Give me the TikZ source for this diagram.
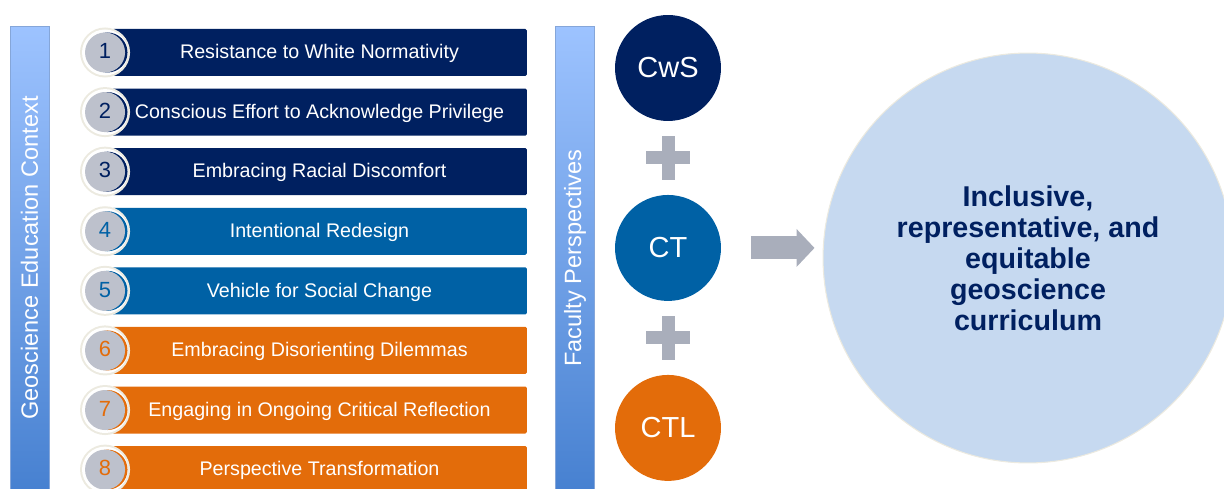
\documentclass[tikz,border=0pt]{standalone}
\usepackage{fontspec}
\setmainfont{Liberation Sans}
\usetikzlibrary{positioning,calc,arrows.meta}

\definecolor{navy}{RGB}{0,32,96}
\definecolor{midblue}{RGB}{0,97,165}
\definecolor{rust}{RGB}{227,108,10}
\definecolor{taggray}{RGB}{189,193,204}
\definecolor{cream}{RGB}{236,234,224}
\definecolor{plusgray}{RGB}{169,174,187}
\definecolor{goalfill}{RGB}{198,217,240}
\definecolor{sidetop}{RGB}{157,195,255}
\definecolor{sidebot}{RGB}{70,128,208}

\begin{document}
\begin{tikzpicture}[x=0.02cm, y=-0.02cm,
    node distance=0.252cm,
    bar/.style={fill=#1, text=white, minimum width=8.3cm, minimum height=0.94cm, inner sep=0pt, outer sep=0pt, text height=0.716em, text depth=0pt, rounded corners=0.03cm, font=\fontsize{11.2}{13}\selectfont},
    tag/.style={circle, fill=taggray, text=#1, minimum size=0.8cm, inner sep=0pt, text height=0.716em, text depth=0pt, font=\fontsize{12.5}{14}\selectfont,
        preaction={draw=cream, line width=0.2cm},
        preaction={draw=white, line width=0.12cm},
        preaction={fill=#1, transform canvas={xshift=0.05cm}}},
    side/.style={minimum width=0.78cm, minimum height=9.4cm, inner sep=0pt, top color=sidetop, bottom color=sidebot, draw=sidetop!85!black, line width=0.3pt},
    sidetext/.style={rotate=90, text=white, font=\fontsize{13.4}{16}\selectfont},
    persp/.style={circle, fill=#1, minimum size=2.12cm, inner sep=0pt, outer sep=0pt, text=white, font=\fontsize{16.5}{20}\selectfont},
    goal/.style={circle, fill=goalfill, draw=cream, line width=0.6pt, minimum size=8.2cm, align=center, text=navy, font=\bfseries\fontsize{16.3}{17.6}\selectfont},
    flow/.style={-{Triangle[length=0.36cm, width=0.74cm]}, line width=0.46cm, draw=plusgray}
]
    \useasboundingbox (0,0) rectangle (1224,489);
    \clip (0,0) rectangle (1224,489);

    % left context bar
    \node[side] (ctx) at (29.5,261) {};
    \node[sidetext] (ctxlabel) at ([yshift=0.06cm]ctx.center) {Geoscience Education Context};

    % the eight steps
    \node[bar=navy] (bar1) at (319.5,52.5) {Resistance to White Normativity};
    \node[bar=navy, below=of bar1] (bar2) {Conscious Effort to Acknowledge Privilege};
    \node[bar=navy, below=of bar2] (bar3) {Embracing Racial Discomfort};
    \node[bar=midblue, below=of bar3] (bar4) {Intentional Redesign};
    \node[bar=midblue, below=of bar4] (bar5) {Vehicle for Social Change};
    \node[bar=rust, below=of bar5] (bar6) {Embracing Disorienting Dilemmas};
    \node[bar=rust, below=of bar6] (bar7) {Engaging in Ongoing Critical Reflection};
    \node[bar=rust, below=of bar7] (bar8) {Perspective Transformation};

    \node[tag=navy] (num1) at ([xshift=-0.14cm]bar1.west) {1};
    \node[tag=navy] (num2) at ([xshift=-0.14cm]bar2.west) {2};
    \node[tag=navy] (num3) at ([xshift=-0.14cm]bar3.west) {3};
    \node[tag=midblue] (num4) at ([xshift=-0.14cm]bar4.west) {4};
    \node[tag=midblue] (num5) at ([xshift=-0.14cm]bar5.west) {5};
    \node[tag=rust] (num6) at ([xshift=-0.14cm]bar6.west) {6};
    \node[tag=rust] (num7) at ([xshift=-0.14cm]bar7.west) {7};
    \node[tag=rust] (num8) at ([xshift=-0.14cm]bar8.west) {8};

    % faculty perspectives bar
    \node[side] (fac) at (575,261) {};
    \node[sidetext] (faclabel) at ([yshift=0.06cm]fac.center) {Faculty Perspectives};

    % perspectives
    \node[persp=navy] (cws) at (668,68) {CwS};
    \node[persp=midblue, below=1.48cm of cws] (ct) {CT};
    \node[persp=rust, below=1.48cm of ct] (ctl) {CTL};

    % plus signs between the circles
    \path ($(cws.south)!0.5!(ct.north)$) coordinate (p1)
          ($(ct.south)!0.5!(ctl.north)$) coordinate (p2);
    \foreach \p in {p1,p2} {
        \fill[plusgray] ($(\p)+(-22,-6.5)$) rectangle ++(44,13);
        \fill[plusgray] ($(\p)+(-6.5,-22)$) rectangle ++(13,44);
    }

    % outcome
    \node[goal] (goal) at (1028,258) {Inclusive,\\representative, and\\equitable\\geoscience\\curriculum};
    \draw[flow] ([xshift=0.6cm]ct.east) -- ([xshift=-0.16cm]ct -| goal.west);
\end{tikzpicture}
\end{document}
